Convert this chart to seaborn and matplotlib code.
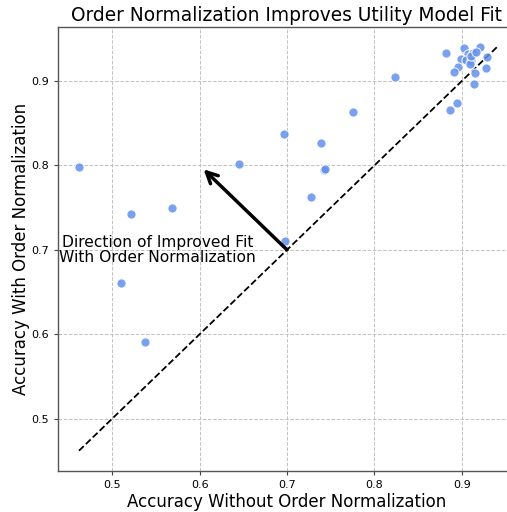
import numpy as np
import pandas as pd
import matplotlib
matplotlib.use("Agg")
import matplotlib.pyplot as plt
import seaborn as sns

# Per-model accuracy without and with order normalization
acc_without = [0.462, 0.521, 0.569, 0.510, 0.538, 0.645, 0.696, 0.698, 0.728, 0.739,
               0.742, 0.743, 0.776, 0.824, 0.882, 0.903, 0.921, 0.907, 0.913, 0.899,
               0.905, 0.911, 0.909, 0.896, 0.891, 0.929, 0.928, 0.915, 0.914, 0.894,
               0.887, 0.910, 0.916]
acc_with = [0.798, 0.743, 0.750, 0.661, 0.591, 0.802, 0.837, 0.711, 0.763, 0.827,
            0.795, 0.796, 0.863, 0.905, 0.933, 0.939, 0.940, 0.932, 0.933, 0.926,
            0.925, 0.924, 0.920, 0.917, 0.911, 0.928, 0.915, 0.909, 0.896, 0.874,
            0.866, 0.930, 0.934]

df = pd.DataFrame({"without": acc_without, "with": acc_with})

sns.set_style("white")
plt.rcParams["text.color"] = "black"
plt.rcParams["axes.labelcolor"] = "black"
plt.rcParams["xtick.color"] = "black"
plt.rcParams["ytick.color"] = "black"

fig = plt.figure(figsize=(5.07, 5.12), dpi=100)
ax = fig.add_axes([58 / 507, 41 / 512, 458 / 507, 444 / 512])

sns.scatterplot(data=df, x="without", y="with", ax=ax, s=44,
                color="#6490EA", alpha=0.85, edgecolor="white", linewidth=0.8,
                zorder=3)

# Identity line spanning the data range
lo = min(df["without"].min(), df["with"].min())
hi = max(df["without"].max(), df["with"].max())
ax.plot([lo, hi], [lo, hi], "k--", lw=1.3, zorder=2)

ax.annotate("", xy=(0.6, 0.8), xytext=(0.7, 0.7),
            arrowprops=dict(arrowstyle="->", color="black", lw=2.5,
                            mutation_scale=20, shrinkA=0, shrinkB=4),
            zorder=4)
ax.text(0.552, 0.70, "Direction of Improved Fit\nWith Order Normalization",
        ha="center", va="center", fontsize=11.2, linespacing=1.05, zorder=5)

ax.set_xlim(0.438, 0.962)
ax.set_ylim(0.438, 0.964)
ax.set_xticks([0.5, 0.6, 0.7, 0.8, 0.9])
ax.set_yticks([0.5, 0.6, 0.7, 0.8, 0.9])
ax.tick_params(axis="both", labelsize=8, length=3, width=0.8, color="#444444",
               direction="out", left=True, bottom=True)
ax.grid(True, linestyle="--", color="#bbbbbb", linewidth=0.7, alpha=0.9)
ax.set_axisbelow(True)
for sp in ax.spines.values():
    sp.set_color("#555555")
    sp.set_linewidth(1.0)

ax.set_xlabel("Accuracy Without Order Normalization", fontsize=12, labelpad=2)
ax.set_ylabel("Accuracy With Order Normalization", fontsize=12, labelpad=1)
ax.set_title("Order Normalization Improves Utility Model Fit", fontsize=13.4,
             pad=4)

fig.savefig("out.png", dpi=100)
